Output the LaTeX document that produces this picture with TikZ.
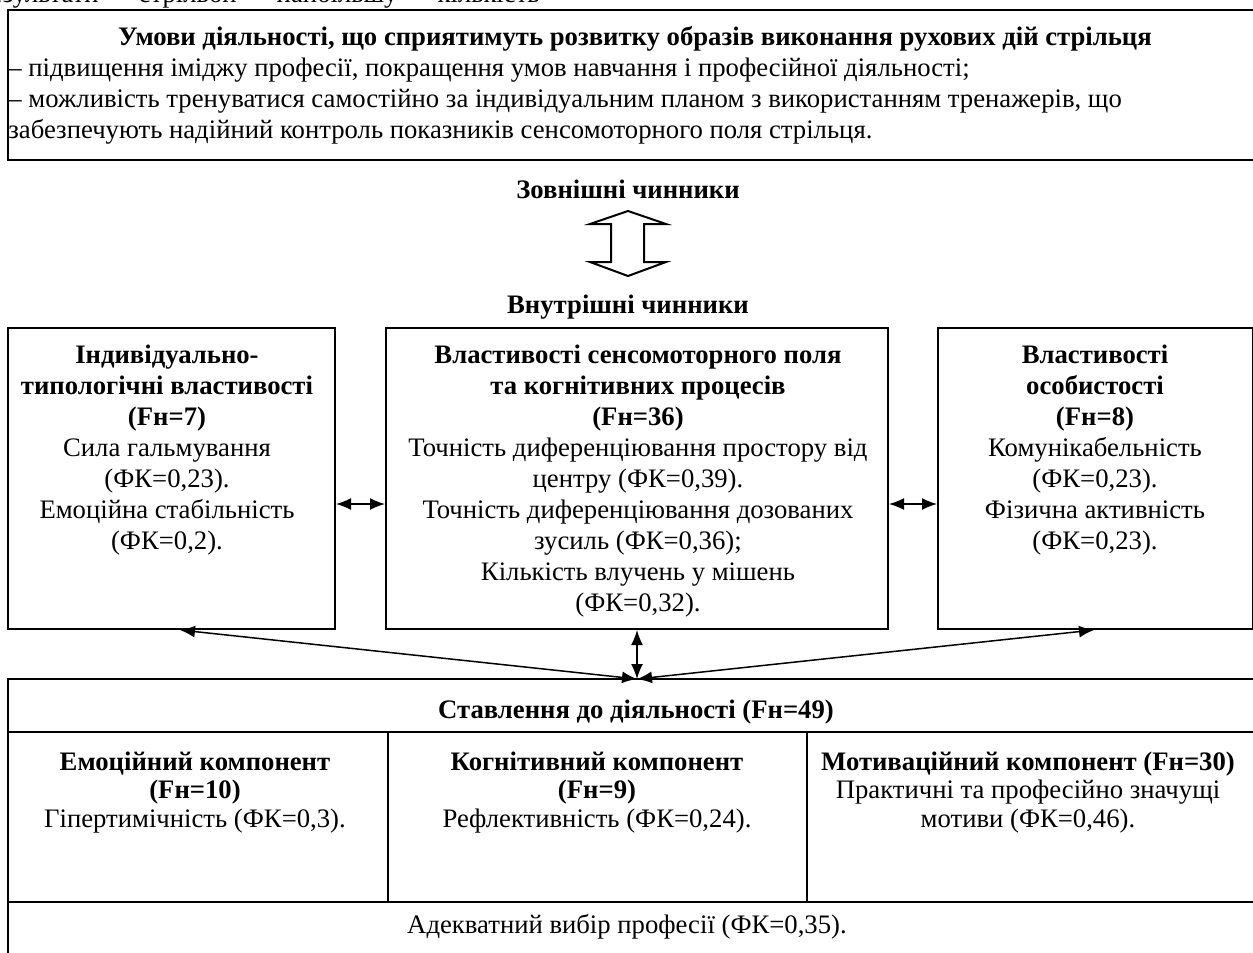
\documentclass[tikz,border=0pt]{standalone}
\usepackage{fontspec}
\setmainfont{Liberation Serif}
\usetikzlibrary{arrows.meta}
\newcommand\mystrut{\rule{0pt}{12pt}}
\begin{document}
\begin{tikzpicture}[x=0.5pt,y=-0.5pt,
  box/.style={draw, line width=1pt, inner sep=0pt},
  txt/.style={font=\fontsize{13.35}{15.5}\selectfont, align=center, inner sep=0pt},
  txtb/.style={font=\fontsize{13.35}{14.2}\selectfont, align=center, inner sep=0pt},
  dbl/.style={{Latex[length=7.5pt,width=6pt]}-{Latex[length=7.5pt,width=6pt]}, line width=0.75pt},
  hollow/.style={draw, line width=1pt, line join=miter}]
\useasboundingbox (0,0) rectangle (1253,953);
\begin{scope}
\clip (0,0) rectangle (1253,953);
% cut-off text at the top
\node[txt, anchor=base east] (cut) at (540,3) {результати \ – \ стрільби \ – \ найбільшу \ – \ кількість};
% top box
\node[box, minimum width=627pt, minimum height=75pt] (top) at (635,85) {};
\node[txt, anchor=base] (toptitle) at (635,45) {\textbf{Умови діяльності, що сприятимуть розвитку образів виконання рухових дій стрільця}};
\node[txt, align=left, anchor=north west] (toplines) at (8,52) {\mystrut– підвищення іміджу професії, покращення умов навчання і професійної діяльності;\\
– можливість тренуватися самостійно за індивідуальним планом з використанням тренажерів, що\\
забезпечують надійний контроль показників сенсомоторного поля стрільця.};
% external / internal
\node[txt, anchor=base] (ext) at (628,198) {\textbf{Зовнішні чинники}};
\node[txt, anchor=base] (int) at (628,313) {\textbf{Внутрішні чинники}};
\draw[hollow] (628,211) -- (666,224) -- (644,224) -- (644,262) -- (666,262) -- (628,276)
  -- (590,262) -- (611,262) -- (611,224) -- (590,224) -- cycle;
% three boxes
\node[box, minimum width=163.5pt, minimum height=150.5pt] (L) at (171.5,478.5) {};
\node[box, minimum width=251pt, minimum height=150.5pt] (M) at (637,478.5) {};
\node[box, minimum width=157.5pt, minimum height=150.5pt] (R) at (1095.5,478.5) {};
\node[txt, anchor=north] (Lt) at (167,339) {\mystrut\textbf{Індивідуально-}\\\textbf{типологічні властивості}\\\textbf{(Fн=7)}\\Сила гальмування\\(ФК=0,23).\\Емоційна стабільність\\(ФК=0,2).};
\node[txt, anchor=north] (Mt) at (638,339) {\mystrut\textbf{Властивості сенсомоторного поля}\\\textbf{та когнітивних процесів}\\\textbf{(Fн=36)}\\Точність диференціювання простору від\\центру (ФК=0,39).\\Точність диференціювання дозованих\\зусиль (ФК=0,36);\\Кількість влучень у мішень\\(ФК=0,32).};
\node[txt, anchor=north] (Rt) at (1095,339) {\mystrut\textbf{Властивості}\\\textbf{особистості}\\\textbf{(Fн=8)}\\Комунікабельність\\(ФК=0,23).\\Фізична активність\\(ФК=0,23).};
% bottom table
\node[box, minimum width=627pt, minimum height=26.5pt] (T) at (635,705.5) {};
\node[box, minimum width=190pt, minimum height=85pt] (E) at (198,817) {};
\node[box, minimum width=209.5pt, minimum height=85pt] (K) at (597.5,817) {};
\node[box, minimum width=227.5pt, minimum height=85pt] (Mo) at (1034.5,817) {};
\node[box, minimum width=627pt, minimum height=54pt] (A) at (635,956) {};
\node[txt, anchor=base] (Tt) at (636,718) {\textbf{Ставлення до діяльності (Fн=49)}};
\node[txtb, anchor=north] (Et) at (195,746) {\mystrut\textbf{Емоційний компонент}\\\textbf{(Fн=10)}\\Гіпертимічність (ФК=0,3).};
\node[txtb, anchor=north] (Kt) at (597,746) {\mystrut\textbf{Когнітивний компонент}\\\textbf{(Fн=9)}\\Рефлективність (ФК=0,24).};
\node[txtb, anchor=north] (Mot) at (1028,746) {\mystrut\textbf{Мотиваційний компонент (Fн=30)}\\Практичні та професійно значущі\\мотиви (ФК=0,46).};
\node[txt, anchor=base] (At) at (627,933) {Адекватний вибір професії (ФК=0,35).};
% connectors
\coordinate (J) at (637,679);
\draw[dbl] (L.east |- 0,504) -- (M.west |- 0,504);
\draw[dbl] (M.east |- 0,504) -- (R.west |- 0,504);
\draw[dbl] (L.south -| 180,0) -- (J);
\draw[dbl] (M.south) -- (J);
\draw[dbl] (R.south -| 1094,0) -- (J);
\end{scope}
\end{tikzpicture}
\end{document}
